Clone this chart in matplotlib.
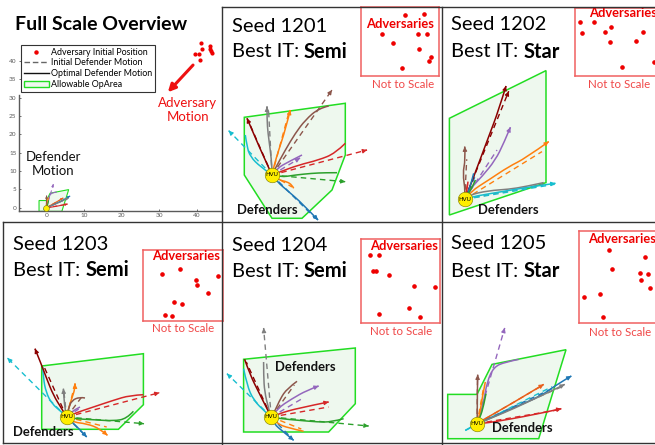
import matplotlib
matplotlib.use("Agg")
import matplotlib.pyplot as plt
from matplotlib.path import Path
from matplotlib.patches import PathPatch, Polygon, Patch
from matplotlib.lines import Line2D

W, H = 655, 445
FONT = "Lato"
plt.rcParams["font.family"] = [FONT, "DejaVu Sans"]

COLORS = {
    "blue": "#1f77b4", "orange": "#ff7f0e", "green": "#2ca02c", "red": "#d62728",
    "purple": "#9467bd", "brown": "#8c564b", "gray": "#7f7f7f", "cyan": "#17becf",
    "maroon": "#8b0000", "dorange": "#e8601c",
}
OP_EDGE = "#22dd22"
OP_FACE = "#eef8ee"

# ---------------- overview data ----------------
ADV_X = [41.1, 41.4, 43.5, 43.4, 43.8, 44.0, 39.4, 40.6, 40.9]
ADV_Y = [44.8, 43.4, 44.2, 43.2, 42.8, 42.2, 41.8, 41.8, 40.2]
X_TICKS = [0, 10, 20, 30, 40]
Y_TICKS = [0, 5, 10, 15, 20, 25, 30, 35, 40]
KM_PER_UNIT = 2 / 3

# ---------------- per-seed data (units relative to HVU) ----------------
SEEDS = [1201, 1202, 1203, 1204, 1205]
BEST_IT = ["Semi", "Star", "Semi", "Semi", "Star"]

OPAREA_1201 = [(-2.77, 5.77), (7.33, 7.17), (7.33, 2.0), (6.0, -1.5), (3.0, -4.33), (0, -4.33), (-2.77, 0)]
OPAREA_1202 = [(-1.53, 8.1), (8.13, 12.87), (8.13, 1.67), (-1.53, -1.57)]
OPAREA_1203 = [(-2.5, 5.1), (7.67, 6.33), (7.67, 1.23), (5.17, -1.23), (-2.5, -1.23)]
OPAREA_1204 = [(-2.77, 5.77), (8.4, 6.9), (8.4, 1.33), (5.73, -1.5), (-2.77, -1.5)]
OPAREA_1205 = [(-2.93, 2.93), (0, 2.93), (1.5, 5.93), (8.9, 7.4), (6.17, -1.5), (-2.93, -1.5)]

# (colour, optimal path, initial path, arrowheads on: s=solid, d=dashed)
PATHS_1201 = [
    ("cyan", [(0, 0), (-1.17, 0.83), (-2.17, 1.83), (-2.5, 2.83), (-2.67, 4)], [(0, 0), (-4.33, 4.43)], "d"),
    ("maroon", [(0, 0), (-1.2, 2.6), (-2.5, 5.67)], [(0, 0), (-2.4, 5.5)], "s"),
    ("gray", [(0, 0), (0, 0.83), (-0.17, 2.5), (-0.4, 4.17), (-0.5, 5.5), (-0.5, 6.83)], [(0, 0), (-0.35, 6.6)], "s"),
    ("orange", [(0, 0), (0.17, 0.83), (0.67, 2.5), (1.33, 4.5), (1.83, 6.5)], [(0, 0), (1.7, 6.3)], "s"),
    ("brown", [(0, 0), (0.33, 0.67), (1.33, 2.5), (2.33, 4.17), (3.33, 5.5), (4.67, 6.67), (5.67, 6.9)], [(0, 0), (6.0, 8.5)], "d"),
    ("purple", [(0, 0), (0.5, 0.67), (1.67, 1.33), (3.0, 2.0)], [(0, 0), (2.8, 1.7)], "d"),
    ("red", [(0, 0), (0.83, 0.33), (2.67, 1.0), (4.67, 1.5), (6.33, 2.17), (7.33, 3.17)], [(0, 0), (9.5, 2.5)], "d"),
    ("green", [(0, 0), (0.83, -0.23), (2.33, 0), (4.0, 0.17), (5.33, 0.23), (6.5, 0.23)], [(0, 0), (7.33, -0.67)], "d"),
    ("orange", [(0, 0), (0.67, -0.5), (1.5, -0.67), (2.0, -1.0), (2.17, -1.33)], [(0, 0), (2.0, -1.2)], ""),
    ("blue", [(0, 0), (0.5, -0.67), (1.67, -1.67), (3.0, -2.83), (4.6, -4.5)], [(0, 0), (4.3, -4.3)], "s"),
]
PATHS_1202 = [
    ("maroon", [(0, 0), (0.4, 0.93), (1.4, 3.6), (2.4, 6.27), (3.4, 8.93), (4.13, 11.33)], [(0, 0), (4.4, 10.8)], "sd"),
    ("purple", [(0, 0), (0.57, 1.1), (1.73, 2.27), (3.07, 3.93), (3.9, 5.6), (4.57, 7.2)], [(0, 0), (3.23, 4.93)], "s"),
    ("orange", [(0, 0), (0.57, 0.77), (2.4, 1.93), (4.4, 3.27), (6.07, 4.1), (8.4, 5.77)], [(0, 0), (7.73, 4.77)], "s"),
    ("brown", [(0, 0), (0.07, 0.77), (-0.2, 2.6), (0.07, 3.93), (0, 5.27)], [(0, 0), (0.2, 4.0)], "s"),
    ("gray", [(0, 0), (0.4, 0.43), (2.4, 0.87), (4.4, 1.0), (6.07, 1.27), (7.9, 1.67)], [(0, 0), (7.9, 1.5)], ""),
    ("cyan", [(0, 0), (0.4, 0.2), (3.73, 0.77), (6.73, 1.27), (9.07, 1.6)], [(0, 0), (9.0, 1.5)], "s"),
    ("blue", [(0, 0), (0.4, 0.6), (0.9, 2.6)], [(0, 0), (1.0, 2.2)], ""),
    ("green", [(0, 0), (0.57, 0.77), (1.07, 1.93)], [(0, 0), (1.0, 1.7)], ""),
    ("red", [(0, 0), (0.23, 0.93), (0.33, 1.77)], [(0, 0), (0.3, 1.6)], ""),
]
PATHS_1203 = [
    ("cyan", [(0, 0), (-0.5, 0.5), (-1.5, 1.33), (-2.07, 2.5), (-2.33, 3.83), (-2.4, 5.0)], [(0, 0), (-5.93, 5.9)], "d"),
    ("maroon", [(0, 0), (-0.5, 0.83), (-1.33, 2.17), (-2.0, 3.83), (-2.5, 5.17), (-3.17, 6.83)], [(0, 0), (-2.33, 5.17)], "s"),
    ("gray", [(0, 0), (-0.17, 0.83), (-0.27, 1.83), (-0.33, 2.83)], [(0, 0), (-0.3, 2.7)], "s"),
    ("orange", [(0, 0), (0.17, 0.83), (0.5, 1.83), (0.83, 2.83), (0.83, 3.33)], [(0, 0), (0.8, 3.2)], "s"),
    ("brown", [(0, 0), (0.17, 0.83), (0.5, 1.67), (1.33, 2.0), (1.83, 1.9)], [(0, 0), (1.5, 2.0)], ""),
    ("purple", [(0, 0), (0.33, 0.5), (1.33, 1.0)], [(0, 0), (1.2, 0.8)], ""),
    ("red", [(0, 0), (0.67, 0.33), (2.67, 1.0), (4.67, 1.67), (6.33, 2.17), (7.67, 2.23)], [(0, 0), (9.27, 2.43)], "d"),
    ("green", [(0, 0), (0.67, -0.17), (2.67, -0.27), (4.67, -0.4), (6.0, -0.17), (6.67, 0.57)], [(0, 0), (7.73, -0.67)], "d"),
    ("orange", [(0, 0), (0.5, -0.5), (2.0, -0.67), (3.33, -1.17), (4.07, -1.83)], [(0, 0), (4.0, -1.0)], "s"),
    ("blue", [(0, 0), (0.5, -0.5), (1.17, -1.1), (2.0, -2.0)], [(0, 0), (1.9, -1.9)], "s"),
]
PATHS_1204 = [
    ("gray", [(0, 0), (-0.27, 0.83), (-0.67, 2.5), (-0.77, 4.17), (-0.77, 5.5)], [(0, 0), (-0.77, 8.9)], "d"),
    ("maroon", [(0, 0), (-0.43, 0.83), (-1.27, 2.5), (-2.1, 4.17), (-2.67, 5.77)], [(0, 0), (-2.5, 5.5)], ""),
    ("cyan", [(0, 0), (-0.6, 0.5), (-1.77, 1.67), (-2.43, 3.17), (-2.77, 4.83)], [(0, 0), (-4.43, 4.33)], "d"),
    ("brown", [(0, 0), (0.4, 0.67), (0.9, 1.83), (1.57, 2.83), (2.57, 3.57)], [(0, 0), (2.3, 3.2)], ""),
    ("purple", [(0, 0), (0.57, 0.83), (2.07, 1.83), (3.57, 2.67), (4.73, 3.1)], [(0, 0), (3.07, 1.83)], "s"),
    ("red", [(0, 0), (0.73, 0.33), (2.73, 0.9), (5.73, 1.5)], [(0, 0), (5.73, 1.0)], "s"),
    ("green", [(0, 0), (0.9, -0.17), (2.73, -0.33), (4.67, -0.5), (6.0, -0.5), (7.23, -0.17)], [(0, 0), (9.73, -0.9)], "d"),
    ("orange", [(0, 0), (0.57, -0.67), (1.73, -1.1), (3.23, -1.43)], [(0, 0), (3.0, -1.2)], ""),
    ("blue", [(0, 0), (0.23, -0.67), (1.23, -1.5), (2.23, -2.33)], [(0, 0), (2.1, -2.2)], "s"),
]
PATHS_1205 = [
    ("purple", [(0, 0), (0.17, 0.5), (0.67, 2.17), (1.0, 4.17), (1.67, 5.67), (2.83, 6.17), (4.17, 6.43)], [(0, 0), (2.77, 9.57)], "d"),
    ("brown", [(0, 0), (0.03, 0.83), (0.03, 2.83), (0.07, 4.9)], [(0, 0), (0.05, 4.6)], "s"),
    ("orange", [(0, 0), (0.23, 0.67), (0.5, 2.5), (0.83, 4.17)], [(0, 0), (0.7, 3.8)], ""),
    ("green", [(0, 0), (0.33, 0.67), (0.67, 1.83), (0.9, 3.0)], [(0, 0), (0.8, 2.8)], ""),
    ("dorange", [(0, 0), (0.5, 0.33), (3.17, 1.83), (6.67, 3.93)], [(0, 0), (6.5, 3.8)], "s"),
    ("blue", [(0, 0), (0.5, 0.17), (3.83, 1.67), (6.5, 2.83), (7.83, 3.83), (9.43, 4.77)], [(0, 0), (7.5, 3.5)], "s"),
    ("gray", [(0, 0), (0.5, 0.17), (4.83, 2.0), (8.77, 3.93)], [(0, 0), (8.5, 3.7)], "s"),
    ("red", [(0, 0), (0.5, 0), (3.17, 0.43), (6.17, 1.0), (8.43, 1.5)], [(0, 0), (8.2, 1.4)], "s"),
    ("cyan", [(-1.17, -0.67), (0, 0)], [(-1.17, -0.67), (7.5, 3.7)], ""),
]

# adversary positions inside the "not to scale" boxes (box-normalised)
ADV_1201 = [(0.564, 0.888), (0.799, 0.903), (0.265, 0.612), (0.726, 0.612), (0.842, 0.612),
            (0.406, 0.485), (0.744, 0.388), (0.897, 0.272), (0.863, 0.218), (0.521, 0.121)]
ADV_1202 = [(0.055, 0.803), (0.218, 0.803), (0.081, 0.631), (0.339, 0.655), (0.402, 0.719),
            (0.395, 0.498), (0.753, 0.655), (0.679, 0.522), (0.524, 0.138), (0.875, 0.202)]
ADV_1203 = [(0.230, 0.665), (0.460, 0.735), (0.657, 0.581), (0.669, 0.502), (0.933, 0.633),
            (0.808, 0.400), (0.381, 0.270), (0.481, 0.242), (0.268, 0.093), (0.364, 0.079)]
ADV_1204 = [(0.105, 0.816), (0.228, 0.816), (0.143, 0.616), (0.186, 0.616), (0.354, 0.576),
            (0.671, 0.440), (0.937, 0.428), (0.608, 0.176), (0.219, 0.100), (0.747, 0.068)]
ADV_1205 = [(0.332, 0.789), (0.738, 0.716), (0.369, 0.589), (0.683, 0.542), (0.764, 0.535),
            (0.694, 0.469), (0.793, 0.378), (0.063, 0.280), (0.240, 0.309), (0.269, 0.062)]

OPAREAS = [OPAREA_1201, OPAREA_1202, OPAREA_1203, OPAREA_1204, OPAREA_1205]
PATHS = [PATHS_1201, PATHS_1202, PATHS_1203, PATHS_1204, PATHS_1205]
ADVS = [ADV_1201, ADV_1202, ADV_1203, ADV_1204, ADV_1205]

# ---------------- layout (pixels, origin top-left) ----------------
PANEL_RECT = [(222, 7, 442, 222), (442, 7, 655, 222), (3, 222, 222, 443),
              (222, 222, 442, 443), (442, 222, 655, 443)]
HVU_PX = [(272, 175), (464.7, 199.3), (66.7, 417), (271.3, 417), (477, 423.7)]
PX_PER_UNIT = 10
BOX_RECT = [(361.3, 7.3, 439.3, 76), (574.7, 8.3, 665, 76), (143.3, 249.7, 223, 321.3),
            (361.3, 239.3, 440.3, 322.7), (578.7, 231, 669, 322.7)]
BOX_LABEL = [(365.8, 24.3), (588.7, 13.3), (151.7, 256.3), (370.3, 246.3), (587.7, 238.7)]
NTS_LABEL = [(403, 84), (619.3, 85), (183.3, 328), (401, 331.3), (619.7, 333)]
DEF_LABEL = [(267, 210), (508.7, 210), (43.3, 432), (305.3, 367), (522, 427.7)]
SEED_LABEL = [(232, 26.7), (451.3, 25), (13.3, 244.7), (232, 245.3), (451.3, 243.7)]
IT_LABEL = [(232, 51.7), (451.3, 51.7), (13.3, 270.3), (232, 271.3), (451.3, 271.3)]

fig = plt.figure(figsize=(W / 100, H / 100), dpi=100)


def fx(x):
    return x / W


def fy(y):
    return 1 - y / H


def px_axes(x0, y0, x1, y1, **kw):
    return fig.add_axes([fx(x0), fy(y1), (x1 - x0) / W, (y1 - y0) / H], **kw)


def smooth_patch(pts, **kw):
    """Quadratic B-spline style smooth curve through the control polygon."""
    if len(pts) < 3:
        verts, codes = list(pts), [Path.MOVETO] + [Path.LINETO] * (len(pts) - 1)
    else:
        verts, codes = [pts[0]], [Path.MOVETO]
        for i in range(1, len(pts) - 1):
            end = pts[-1] if i == len(pts) - 2 else (
                (pts[i][0] + pts[i + 1][0]) / 2, (pts[i][1] + pts[i + 1][1]) / 2)
            verts += [pts[i], end]
            codes += [Path.CURVE3, Path.CURVE3]
    return PathPatch(Path(verts, codes), fill=False, **kw)


def arrow_head(ax, pts, color, lw, scale):
    (x0, y0), (x1, y1) = pts[-2], pts[-1]
    dx, dy = x1 - x0, y1 - y0
    ln = (dx * dx + dy * dy) ** 0.5 or 1
    back = 0.05
    ax.annotate("", xy=(x1, y1), xytext=(x1 - dx / ln * back, y1 - dy / ln * back),
                arrowprops=dict(arrowstyle="-|>", color=color, lw=lw, shrinkA=0, shrinkB=0,
                                mutation_scale=scale))


def draw_defenders(ax, oparea, paths, k=1.0, lw=1.1, head=6, hvu_size=10.5, hvu_text=True):
    ax.add_patch(Polygon([(x * k, y * k) for x, y in oparea], closed=True,
                         facecolor=OP_FACE, edgecolor=OP_EDGE, lw=lw, zorder=1))
    for cname, solid, dashed, arrows in paths:
        c = COLORS[cname]
        dsh = [(x * k, y * k) for x, y in dashed]
        sol = [(x * k, y * k) for x, y in solid]
        ax.plot([p[0] for p in dsh], [p[1] for p in dsh], color=c, lw=lw * 0.9,
                ls=(0, (4, 3)), zorder=2)
        ax.add_patch(smooth_patch(sol, edgecolor=c, lw=lw, zorder=3))
        if "d" in arrows:
            arrow_head(ax, dsh, c, lw * 0.8, head)
        if "s" in arrows:
            arrow_head(ax, sol, c, lw * 0.8, head)
    ax.plot([0], [0], "o", ms=hvu_size, mfc="#ffee00", mec="#777700", mew=0.4, zorder=5)
    if hvu_text:
        ax.text(0, 0, "HVU", fontsize=4.3, ha="center", va="center", zorder=6,
                family=["DejaVu Sans"])


# ---------------- overview ----------------
ax0 = px_axes(19.3, 42.7, 222, 210.7)
ax0.set_xlim(-7.2, 46.7)
ax0.set_ylim(-0.82, 45)
for s in ("top", "right"):
    ax0.spines[s].set_visible(False)
for s in ("left", "bottom"):
    ax0.spines[s].set_color("#5a5a5a")
    ax0.spines[s].set_linewidth(1.0)
ax0.spines["left"].set_bounds(-0.82, 30.6)
ax0.set_xticks(X_TICKS)
ax0.set_yticks(Y_TICKS)
ax0.tick_params(direction="in", length=1.5, width=0.6, labelsize=4.6, colors="#5a5a5a",
                pad=2)
ax0.patch.set_alpha(0)
draw_defenders(ax0, OPAREA_1205, PATHS_1205, k=KM_PER_UNIT, lw=0.8, head=3,
               hvu_size=4.2, hvu_text=False)
ax0.plot(ADV_X, ADV_Y, "o", ms=2.0, color="#ee0000", clip_on=False, zorder=4)
ax0.annotate("", xy=(32.3, 31.5), xytext=(39.0, 38.9),
             arrowprops=dict(arrowstyle="-|>", color="#ee1111", lw=2.2, mutation_scale=11,
                             shrinkA=0, shrinkB=0))
fig.text(fx(188), fy(110), "Adversary\nMotion", color="#ee1111", fontsize=9.5,
         ha="center", va="center", linespacing=1.15)
fig.text(fx(53.3), fy(164), "Defender\nMotion", color="#111111", fontsize=9.5,
         ha="center", va="center", linespacing=1.15)
fig.text(fx(15), fy(25), "Full Scale Overview", fontsize=14, weight="bold",
         ha="left", va="center")

handles = [
    Line2D([], [], ls="none", marker="o", ms=2.2, color="#ee0000"),
    Line2D([], [], ls=(0, (4, 2)), lw=1.0, color="#666666"),
    Line2D([], [], ls="-", lw=1.0, color="#111111"),
    Patch(facecolor=OP_FACE, edgecolor=OP_EDGE, lw=1.0),
]
labels = ["Adversary Initial Position", "Initial Defender Motion",
          "Optimal Defender Motion", "Allowable OpArea"]
leg = fig.legend(handles, labels, loc="upper left", bbox_to_anchor=(fx(21), fy(45)),
                 bbox_transform=fig.transFigure, fontsize=6.4, frameon=True,
                 fancybox=False, edgecolor="#333333", framealpha=1, borderpad=0.3,
                 labelspacing=0.2, handlelength=2.8, handletextpad=0.3, borderaxespad=0)
leg.get_frame().set_linewidth(0.8)
leg.set_zorder(10)

# ---------------- seed panels ----------------
for i, seed in enumerate(SEEDS):
    x0, y0, x1, y1 = PANEL_RECT[i]
    hx, hy = HVU_PX[i]
    ax = px_axes(x0, y0, x1, y1)
    ax.set_xlim((x0 - hx) / PX_PER_UNIT, (x1 - hx) / PX_PER_UNIT)
    ax.set_ylim((hy - y1) / PX_PER_UNIT, (hy - y0) / PX_PER_UNIT)
    ax.axis("off")
    draw_defenders(ax, OPAREAS[i], PATHS[i])

    bx0, by0, bx1, by1 = BOX_RECT[i]
    bax = px_axes(bx0, by0, bx1, by1)
    bax.set_xlim(0, 1)
    bax.set_ylim(0, 1)
    bax.set_xticks([])
    bax.set_yticks([])
    bax.patch.set_alpha(0)
    for s in bax.spines.values():
        s.set_color("#f06060")
        s.set_linewidth(1.1)
    bax.plot([p[0] for p in ADVS[i]], [p[1] for p in ADVS[i]], "o", ms=2.3,
             color="#ee0000", clip_on=False)

    lx, ly = BOX_LABEL[i]
    fig.text(fx(lx), fy(ly), "Adversaries", color="#ee0000", fontsize=9.3, weight="bold",
             ha="left", va="center")
    nx, ny = NTS_LABEL[i]
    fig.text(fx(nx), fy(ny), "Not to Scale", color="#f04848", fontsize=8.3,
             ha="center", va="center")
    dx, dy = DEF_LABEL[i]
    fig.text(fx(dx), fy(dy), "Defenders", color="#111111", fontsize=9.4, weight="bold",
             ha="center", va="center", zorder=8)
    sx, sy = SEED_LABEL[i]
    fig.text(fx(sx), fy(sy), f"Seed {seed}", fontsize=14.5, ha="left", va="center")
    ix, iy = IT_LABEL[i]
    t = fig.text(fx(ix), fy(iy), "Best IT:", fontsize=14.5, ha="left", va="center")
    ax.annotate(BEST_IT[i], xy=(1, 0.5), xycoords=t, xytext=(3.5, 0),
                textcoords="offset points", fontsize=14.5, weight="bold",
                ha="left", va="center", annotation_clip=False)

# ---------------- panel frame lines ----------------
FRAME = [
    ((222, 7), (222, 445)), ((222, 7), (655, 7)), ((3, 222), (655, 222)),
    ((442, 7), (442, 445)), ((3, 222), (3, 443)), ((3, 443), (655, 443)),
]
for (a, b) in FRAME:
    fig.add_artist(Line2D([fx(a[0]), fx(b[0])], [fy(a[1]), fy(b[1])], color="#333333",
                          lw=1.0, transform=fig.transFigure, zorder=20))

fig.savefig("out.png", dpi=100)
